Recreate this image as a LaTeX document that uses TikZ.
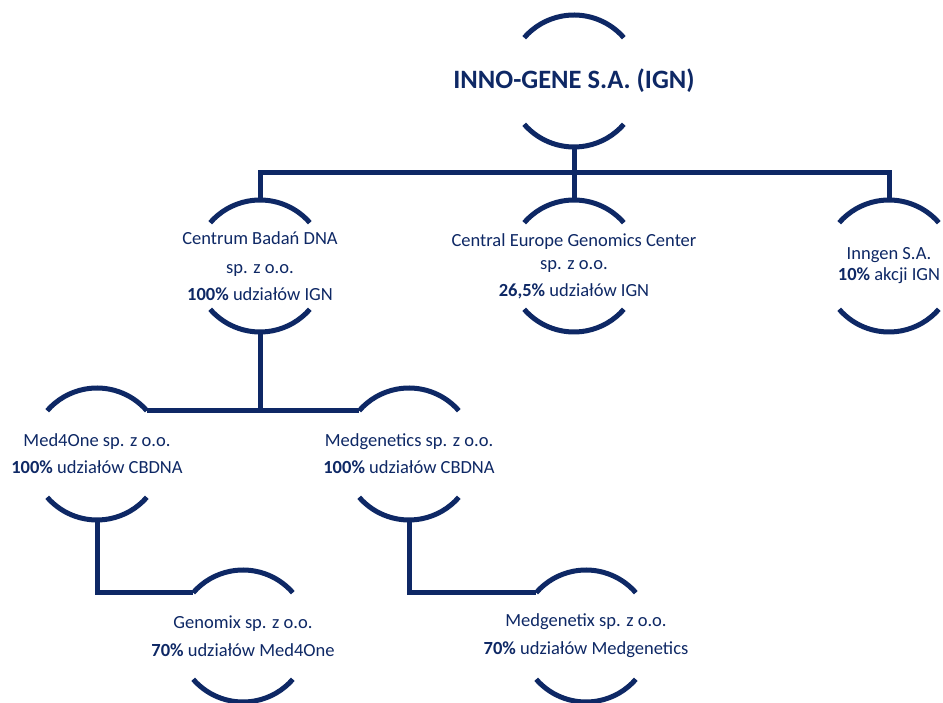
\documentclass[tikz,border=0pt]{standalone}
\usepackage{fontspec}
\setmainfont{Carlito}
\definecolor{orgnavy}{RGB}{14,40,101}
\newcommand\orgunit[3]{%
  \coordinate (#1) at (#2,#3);
  \coordinate (#1-t) at ([shift={(90:66)}]#1);
  \coordinate (#1-b) at ([shift={(-90:66)}]#1);
  \coordinate (#1-tl) at ([shift={(139:66)}]#1);
  \coordinate (#1-tr) at ([shift={(41:66)}]#1);
  \draw[ln] (#1-tr) arc[start angle=41,end angle=139,radius=66];
  \draw[ln] ([shift={(-139:66)}]#1) arc[start angle=-139,end angle=-41,radius=66];
}
\begin{document}
\begin{tikzpicture}[x=1pt,y=1pt,
  ln/.style={draw=orgnavy,line width=5pt},
  lbl/.style={text=orgnavy,align=center,inner sep=0pt,font=\fontsize{18.5}{22}\selectfont},
  ttl/.style={text=orgnavy,inner sep=0pt,font=\fontsize{26.5}{30}\selectfont\bfseries}]
\useasboundingbox (0,0) rectangle (943,702);
\fill[white] (0,0) rectangle (943,702);
% units
\orgunit{ign}{574}{621}
\orgunit{cbdna}{260}{436}
\orgunit{cegc}{574}{436}
\orgunit{inngen}{889}{436}
\orgunit{m4o}{97}{248}
\orgunit{mgs}{409}{248}
\orgunit{gmx}{243}{66}
\orgunit{mgx}{586}{66}
% connectors
\draw[ln] (ign-b) -- (cegc-t);
\draw[ln] (cbdna-t) -- ++(0,27) -| (inngen-t);
\draw[ln] (m4o-tr) -- (mgs-tl);
\draw[ln] (cbdna-b) -- (cbdna-b |- m4o-tr);
\draw[ln] (m4o-b) |- (gmx-tl);
\draw[ln] (mgs-b) |- (mgx-tl);
% texts
\node[ttl] (t-ign) at (ign) {INNO-GENE S.A. (IGN)};
\node[lbl] (t-cbdna) at (cbdna) {Centrum Badań DNA\\[7pt] sp. z o.o.\\[5pt] \textbf{100\%} udziałów IGN};
\node[lbl] (t-cegc) at (cegc) {Central Europe Genomics Center\\[1pt] sp. z o.o.\\[5pt] \textbf{26,5\%} udziałów IGN};
\node[lbl] (t-inngen) at (inngen) {Inngen S.A.\\[-1pt] \textbf{10\%} akcji IGN};
\node[lbl] (t-m4o) at (m4o) {Med4One sp. z o.o.\\[5pt] \textbf{100\%} udziałów CBDNA};
\node[lbl] (t-mgs) at (mgs) {Medgenetics sp. z o.o.\\[5pt] \textbf{100\%} udziałów CBDNA};
\node[lbl] (t-gmx) at (gmx) {Genomix sp. z o.o.\\[6pt] \textbf{70\%} udziałów Med4One};
\node[lbl] (t-mgx) at (mgx) {Medgenetix sp. z o.o.\\[6pt] \textbf{70\%} udziałów Medgenetics};
\end{tikzpicture}
\end{document}
